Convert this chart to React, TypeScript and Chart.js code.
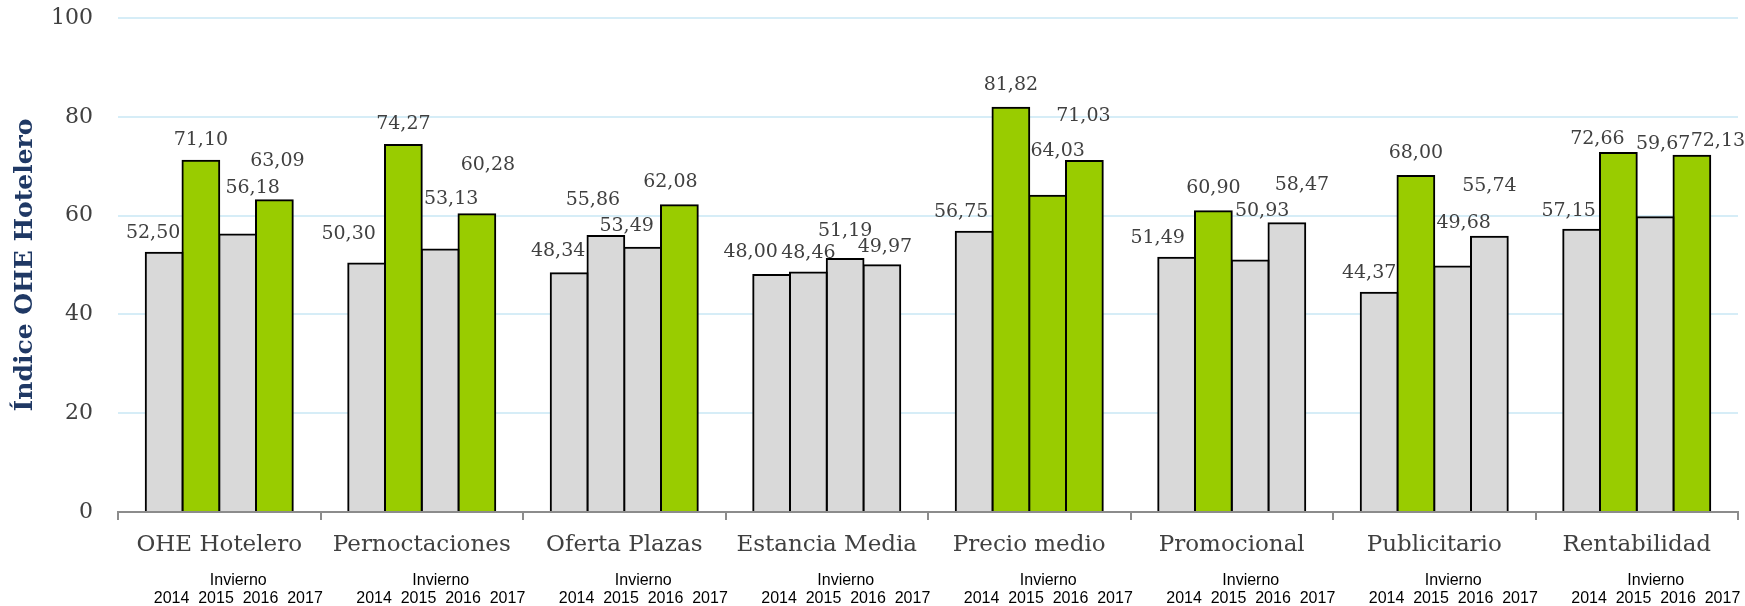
import React, { useEffect, useRef } from 'react';
import { Chart, registerables } from 'chart.js';

Chart.register(...registerables);

// ---- data ----
const CATEGORIES = [
  'OHE Hotelero',
  'Pernoctaciones',
  'Oferta Plazas',
  'Estancia Media',
  'Precio medio',
  'Promocional',
  'Publicitario',
  'Rentabilidad',
];
const YEARS = ['2014', '2015', '2016', '2017'];
const SEASON = 'Invierno';
const V2014 = [52.5, 50.3, 48.34, 48.0, 56.75, 51.49, 44.37, 57.15];
const V2015 = [71.1, 74.27, 55.86, 48.46, 81.82, 60.9, 68.0, 72.66];
const V2016 = [56.18, 53.13, 53.49, 51.19, 64.03, 50.93, 49.68, 59.67];
const V2017 = [63.09, 60.28, 62.08, 49.97, 71.03, 58.47, 55.74, 72.13];
const SERIES = [V2014, V2015, V2016, V2017];
const Y_MIN = 0;
const Y_MAX = 100;
const Y_STEP = 20;
const Y_TITLE = 'Índice OHE Hotelero';
const HIGHLIGHT_FROM = 60;

// ---- styles ----
const GREEN = '#99CC00';
const GRAY = '#D9D9D9';
const TEXT = '#404040';
const NAVY = '#1F3864';
const SERIF = '"DejaVu Serif", serif';
const SANS = '"Liberation Sans", Arial, sans-serif';

// manual label nudges (px) relative to bar centre / bar top, as placed in the original
const LABEL_DX = [
  [-11, -18, -11, -21, -13, -19, -10, -13],
  [0, 0, -13, 0, 0, 0, 0, -21],
  [15, 11, -16, 0, 10, 12, 11, 8],
  [3, 11, -9, 3, -1, 15, 0, 26],
];
const LABEL_DY = [
  [-20, -29, -22, -23, -20, -20, -20, -19],
  [-21, -21, -36, -20, -23, -23, -23, -14],
  [-46, -50, -22, -28, -45, -49, -44, -73],
  [-39, -49, -23, -18, -45, -38, -51, -15],
];

const fmt = (v: number) => v.toFixed(2).replace('.', ',');

const labelPlugin = {
  id: 'valueLabels',
  afterDatasetsDraw(chart: any) {
    const { ctx } = chart;
    ctx.save();
    ctx.font = `19px ${SERIF}`;
    ctx.fillStyle = TEXT;
    ctx.textAlign = 'center';
    ctx.textBaseline = 'middle';
    chart.data.datasets.forEach((ds: any, d: number) => {
      const meta = chart.getDatasetMeta(d);
      meta.data.forEach((bar: any, i: number) => {
        ctx.fillText(fmt(ds.data[i]), bar.x + LABEL_DX[d][i], bar.y + LABEL_DY[d][i]);
      });
    });
    ctx.restore();
  },
  afterDraw(chart: any) {
    const { ctx, chartArea } = chart;
    const xs = chart.scales.x;
    ctx.save();
    ctx.font = `16px ${SANS}`;
    ctx.fillStyle = '#000';
    ctx.textAlign = 'center';
    ctx.textBaseline = 'middle';
    CATEGORIES.forEach((_, i) => {
      const x = xs.getPixelForTick(i) + 19;
      ctx.fillText(SEASON, x, chartArea.bottom + 69);
      ctx.fillText(YEARS.join('  '), x, chartArea.bottom + 87);
    });
    ctx.restore();
  },
};

export default function App() {
  const ref = useRef<HTMLCanvasElement | null>(null);

  useEffect(() => {
    if (!ref.current) return;
    const chart = new Chart(ref.current, {
      type: 'bar',
      data: {
        labels: CATEGORIES,
        datasets: YEARS.map((y, d) => ({
          label: y,
          data: SERIES[d],
          backgroundColor: SERIES[d].map((v) => (v >= HIGHLIGHT_FROM ? GREEN : GRAY)),
          borderColor: '#000000',
          borderWidth: 2,
          borderSkipped: 'start',
          inflateAmount: 1,
          categoryPercentage: 0.726,
          barPercentage: 1,
        })),
      },
      options: {
        responsive: false,
        animation: false,
        devicePixelRatio: 1,
        layout: { padding: { top: 18, right: 7, left: 0, bottom: 0 } },
        plugins: {
          legend: { display: false },
          tooltip: { enabled: false },
        },
        scales: {
          x: {
            afterFit: (s: any) => {
              s.height = 94;
            },
            grid: {
              drawOnChartArea: false,
              drawTicks: true,
              tickLength: 8,
              color: '#8C8C8C',
              lineWidth: 2,
            },
            border: { display: true, color: '#8C8C8C', width: 2 },
            ticks: {
              color: TEXT,
              font: { family: SERIF, size: 23 },
              padding: 11,
              maxRotation: 0,
              autoSkip: false,
            },
          },
          y: {
            min: Y_MIN,
            max: Y_MAX,
            afterFit: (s: any) => {
              s.width = 118;
              s.paddingTop = 0;
              s.paddingBottom = 0;
            },
            grid: { color: '#D6EDF7', lineWidth: 2, drawTicks: false },
            border: { display: false },
            ticks: {
              stepSize: Y_STEP,
              color: TEXT,
              font: { family: SERIF, size: 22 },
              padding: 25,
            },
            title: {
              display: true,
              text: Y_TITLE,
              color: NAVY,
              font: { family: SERIF, size: 25, weight: 'bold' },
              padding: { top: 10, bottom: 0 },
            },
          },
        },
      },
      plugins: [labelPlugin],
    } as any);
    return () => chart.destroy();
  }, []);

  return (
    <div style={{ position: 'fixed', left: 0, top: 0, width: 1745, height: 606, background: '#fff' }}>
      <canvas ref={ref} width={1745} height={606} style={{ width: 1745, height: 606, display: 'block' }} />
    </div>
  );
}
